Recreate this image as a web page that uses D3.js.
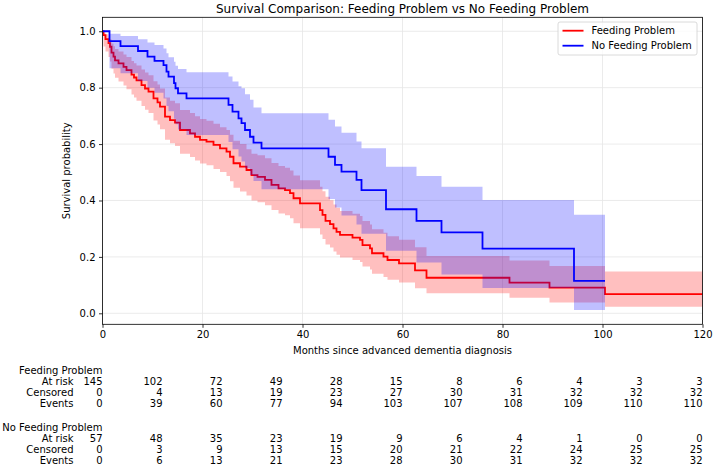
<!DOCTYPE html>
<html>
<head>
<meta charset="utf-8">
<script src="https://cdn.jsdelivr.net/npm/d3@7/dist/d3.min.js"></script>
<style>
  body { margin: 0; background: #fff; }
  text { font-family: "DejaVu Sans", sans-serif; fill: #000; }
</style>
</head>
<body>
<script>
// Kaplan-Meier steps (months, survival, CI)
var fpTime = [0, 0.2, 0.6, 1.2, 1.5, 1.8, 2.2, 2.5, 3.2, 4.2, 4.8, 5.8, 6.3, 6.8, 7.8, 8.5, 9.2, 10.2, 11.0, 11.5,
  12.5, 13.5, 14.5, 15.5, 17.5, 18.5, 19.5, 20.8, 22.2, 23.5, 24.8, 25.5, 26.2, 27.5, 28.8, 29.8, 31.0, 32.5, 33.8, 35.2,
  36.5, 37.5, 38.2, 39.5, 43.5, 44.0, 44.6, 45.5, 46.2, 46.8, 47.5, 50.0, 51.5, 52.0, 53.5, 53.9, 56.2, 57.0, 59.3, 62.5,
  64.8, 81.4, 89.4, 100.5, 120];
var fpSurv = [1, .986, .972, .958, .945, .924, .910, .897, .886, .874, .862, .846, .836, .826, .809, .797, .786, .762, .748, .733,
  .697, .685, .676, .650, .638, .626, .615, .609, .597, .585, .573, .555, .532, .520, .508, .490, .484, .473, .455, .443,
  .437, .426, .408, .390, .366, .349, .328, .316, .301, .289, .278, .268, .260, .242, .230, .213, .201, .189, .177, .152,
  .126, .109, .091, .068, .068];
var fpUpper = [1, .996, .989, .981, .972, .957, .947, .937, .928, .918, .909, .895, .887, .879, .864, .854, .844, .823, .811, .797,
  .765, .754, .745, .721, .710, .699, .689, .683, .672, .660, .650, .633, .612, .600, .582, .566, .560, .550, .533, .522,
  .516, .506, .489, .472, .449, .433, .413, .401, .386, .374, .363, .353, .345, .327, .315, .298, .286, .273, .261, .234,
  .203, .187, .168, .148, .148];
var fpLower = [1, .946, .928, .909, .893, .867, .850, .835, .822, .808, .794, .776, .765, .754, .735, .722, .710, .684, .669, .653,
  .615, .603, .593, .566, .554, .542, .531, .525, .512, .501, .487, .468, .445, .432, .418, .400, .394, .383, .366, .354,
  .348, .337, .319, .302, .279, .263, .244, .233, .219, .208, .198, .189, .182, .166, .155, .140, .129, .119, .109, .089,
  .071, .055, .038, .023, .023];

var nfpTime = [0, 1.4, 3.6, 7.1, 9.0, 10.4, 12.2, 12.8, 13.2, 14.3, 14.6, 15.1, 16.8, 25.2, 26.0, 27.2, 27.8, 28.5, 29.5, 30.2,
  31.8, 45.2, 46.5, 47.8, 50.8, 51.8, 56.7, 62.8, 67.8, 76.0, 94.3, 100.5];
var nfpSurv = [1, .965, .947, .930, .910, .895, .880, .857, .839, .816, .798, .780, .762, .739, .715, .691, .674, .650, .626, .605,
  .585, .555, .526, .502, .473, .437, .369, .328, .287, .229, .115, .115];
var nfpUpper = [1, .991, .983, .972, .960, .951, .939, .922, .908, .892, .878, .866, .855, .840, .822, .805, .798, .777, .757, .730,
  .709, .686, .662, .640, .609, .585, .520, .487, .449, .402, .349, .349];
var nfpLower = [1, .869, .851, .824, .800, .782, .762, .735, .716, .690, .670, .652, .632, .607, .582, .556, .538, .514, .490, .469,
  .440, .405, .375, .347, .315, .282, .222, .180, .138, .090, .012, .012];

// at-risk table
var tableTimes = [0, 12, 24, 36, 48, 60, 72, 84, 96, 108, 120];
var fpAtRisk = [145, 102, 72, 49, 28, 15, 8, 6, 4, 3, 3];
var fpCensored = [0, 4, 13, 19, 23, 27, 30, 31, 32, 32, 32];
var fpEvents = [0, 39, 60, 77, 94, 103, 107, 108, 109, 110, 110];
var nfpAtRisk = [57, 48, 35, 23, 19, 9, 6, 4, 1, 0, 0];
var nfpCensored = [0, 3, 9, 13, 15, 20, 21, 22, 24, 25, 25];
var nfpEvents = [0, 6, 13, 21, 23, 28, 30, 31, 32, 32, 32];

var xTicks = [0, 20, 40, 60, 80, 100, 120];
var yTicks = [0, 0.2, 0.4, 0.6, 0.8, 1.0];

var groups = [
  {name: "Feeding Problem", color: "red", time: fpTime, surv: fpSurv, up: fpUpper, lo: fpLower,
    rows: [["At risk", fpAtRisk], ["Censored", fpCensored], ["Events", fpEvents]]},
  {name: "No Feeding Problem", color: "blue", time: nfpTime, surv: nfpSurv, up: nfpUpper, lo: nfpLower,
    rows: [["At risk", nfpAtRisk], ["Censored", nfpCensored], ["Events", nfpEvents]]}
];

var W = 713, H = 468;
var plot = {left: 102.5, right: 702.5, top: 17.3, bottom: 324.3};

var svg = d3.select("body").append("svg")
  .attr("width", W).attr("height", H);

var x = d3.scaleLinear().domain([0, 120]).range([plot.left, plot.right]);
var y = d3.scaleLinear().domain([-0.039, 1.0495]).range([plot.bottom, plot.top]);

// grid
svg.append("g").selectAll("line").data(xTicks).join("line")
  .attr("x1", d => x(d)).attr("x2", d => x(d))
  .attr("y1", plot.top).attr("y2", plot.bottom)
  .attr("stroke", "#e6e6e6").attr("stroke-width", 0.8);
svg.append("g").selectAll("line").data(yTicks).join("line")
  .attr("x1", plot.left).attr("x2", plot.right)
  .attr("y1", d => y(d)).attr("y2", d => y(d))
  .attr("stroke", "#e6e6e6").attr("stroke-width", 0.8);

svg.append("clipPath").attr("id", "clip").append("rect")
  .attr("x", plot.left).attr("y", plot.top)
  .attr("width", plot.right - plot.left).attr("height", plot.bottom - plot.top);

var area = d3.area().curve(d3.curveStepAfter)
  .x(d => x(d.t)).y0(d => y(d.lo)).y1(d => y(d.up));
var line = d3.line().curve(d3.curveStepAfter)
  .x(d => x(d.t)).y(d => y(d.s));

var g = svg.append("g").attr("clip-path", "url(#clip)");
groups.forEach(function (grp) {
  var pts = grp.time.map((t, i) => ({t: t, s: grp.surv[i], up: grp.up[i], lo: grp.lo[i]}));
  g.append("path").attr("d", area(pts))
    .attr("fill", grp.color).attr("fill-opacity", 0.25);
  g.append("path").attr("d", line(pts))
    .attr("fill", "none").attr("stroke", grp.color).attr("stroke-width", 1.8);
});

// axes
var xAxis = svg.append("g").attr("transform", "translate(0," + plot.bottom + ")")
  .call(d3.axisBottom(x).tickValues(xTicks).tickSize(3.5).tickPadding(3.5).tickFormat(d3.format("d")));
var yAxis = svg.append("g").attr("transform", "translate(" + plot.left + ",0)")
  .call(d3.axisLeft(y).tickValues(yTicks).tickSize(3.5).tickPadding(3.5).tickFormat(d3.format(".1f")));
[xAxis, yAxis].forEach(function (a) {
  a.select(".domain").remove();
  a.selectAll("text").style("font-size", "10px").attr("fill", "#000");
  a.selectAll("line").attr("stroke", "#000").attr("stroke-width", 0.8);
});

// frame
svg.append("rect")
  .attr("x", plot.left).attr("y", plot.top)
  .attr("width", plot.right - plot.left).attr("height", plot.bottom - plot.top)
  .attr("fill", "none").attr("stroke", "#000").attr("stroke-width", 0.8);

// title & labels
svg.append("text").attr("x", (plot.left + plot.right) / 2).attr("y", 12.5)
  .attr("text-anchor", "middle").style("font-size", "12px")
  .text("Survival Comparison: Feeding Problem vs No Feeding Problem");
svg.append("text").attr("x", (plot.left + plot.right) / 2).attr("y", 354)
  .attr("text-anchor", "middle").style("font-size", "10px")
  .text("Months since advanced dementia diagnosis");
svg.append("text")
  .attr("transform", "translate(70," + ((plot.top + plot.bottom) / 2) + ") rotate(-90)")
  .attr("text-anchor", "middle").style("font-size", "10px")
  .text("Survival probability");

// legend
var leg = svg.append("g");
leg.append("rect").attr("x", 558).attr("y", 22).attr("width", 139).attr("height", 33)
  .attr("rx", 2).attr("fill", "#fff").attr("fill-opacity", 0.8)
  .attr("stroke", "#d0d0d0").attr("stroke-width", 0.8);
groups.forEach(function (grp, i) {
  var ly = 30.7 + i * 15;
  leg.append("line").attr("x1", 562.5).attr("x2", 583.5).attr("y1", ly).attr("y2", ly)
    .attr("stroke", grp.color).attr("stroke-width", 1.8);
  leg.append("text").attr("x", 591.5).attr("y", ly + 3.6).style("font-size", "10px").text(grp.name);
});

// at-risk table
var table = svg.append("g").style("font-size", "10px");
groups.forEach(function (grp, gi) {
  var y0 = 373.5 + gi * 57;
  table.append("text").attr("x", plot.left).attr("y", y0)
    .attr("text-anchor", "end").text(grp.name);
  grp.rows.forEach(function (row, ri) {
    var ry = y0 + (ri + 1) * 11.3;
    table.append("text").attr("x", 73.5).attr("y", ry)
      .attr("text-anchor", "end").text(row[0]);
    table.selectAll(null).data(row[1]).join("text")
      .attr("x", (d, i) => x(tableTimes[i]))
      .attr("y", ry).attr("text-anchor", "end")
      .text(d => d);
  });
});
</script>
</body>
</html>
